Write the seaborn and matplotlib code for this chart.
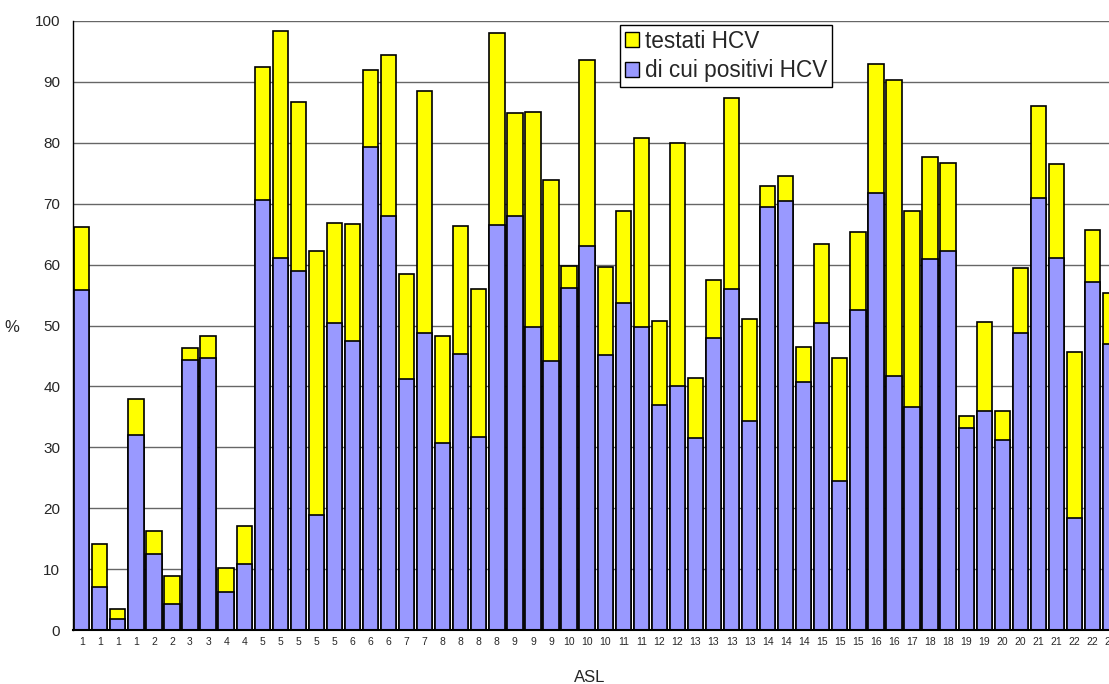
import numpy as np
import pandas as pd
import matplotlib
matplotlib.use("Agg")
import matplotlib.pyplot as plt
from matplotlib.patches import Patch
import seaborn as sns

# ASL code under each bar (chart is cut at the right edge, last bar is partial)
asl = [1, 1, 1, 1, 2, 2, 3, 3, 4, 4, 5, 5, 5, 5, 5, 6, 6, 6, 7, 7,
       8, 8, 8, 8, 9, 9, 9, 10, 10, 10, 11, 11, 12, 12, 13, 13, 13, 13,
       14, 14, 14, 15, 15, 15, 16, 16, 17, 18, 18, 19, 19, 20, 20, 21, 21,
       22, 22, 23]

testati = [66.1, 14.2, 3.4, 38.0, 16.2, 8.8, 46.3, 48.3, 10.2, 17.1,
           92.4, 98.3, 86.7, 62.3, 66.9, 66.7, 91.9, 94.4, 58.4, 88.5,
           48.3, 66.3, 56.0, 98.0, 84.9, 85.0, 73.9, 59.8, 93.6, 59.6,
           68.8, 80.8, 50.8, 80.0, 41.3, 57.4, 87.4, 51.1, 72.9, 74.5,
           46.5, 63.4, 44.6, 65.4, 93.0, 90.3, 68.8, 77.6, 76.7, 35.1,
           50.5, 35.9, 59.5, 86.1, 76.5, 45.7, 65.7, 55.3]

positivi = [55.9, 7.1, 1.8, 32.1, 12.4, 4.3, 44.3, 44.6, 6.3, 10.9,
            70.6, 61.1, 58.9, 18.9, 50.4, 47.4, 79.3, 67.9, 41.2, 48.7,
            30.7, 45.3, 31.7, 66.5, 67.9, 49.7, 44.1, 56.2, 63.0, 45.1,
            53.7, 49.7, 37.0, 40.0, 31.6, 47.9, 56.0, 34.3, 69.4, 70.4,
            40.7, 50.4, 24.4, 52.5, 71.7, 41.7, 36.6, 60.9, 62.2, 33.1,
            36.0, 31.2, 48.7, 71.0, 61.1, 18.4, 57.2, 46.9]

YELLOW = "#FFFF00"
BLUE = "#9999FF"

df = pd.DataFrame({"pos": np.arange(len(asl)), "asl": asl,
                   "testati": testati, "positivi": positivi})

sns.set_style("white")
plt.rcParams["font.family"] = ["Liberation Sans", "DejaVu Sans"]

W, H = 1109, 684
fig = plt.figure(figsize=(W / 100, H / 100), dpi=100)
# axes run slightly past the right edge, like the cropped original
ax = fig.add_axes([72.7 / W, 54 / H, 1046.9 / W, 609 / H])

sns.barplot(data=df, x="pos", y="testati", color=YELLOW, saturation=1,
            width=0.85, edgecolor="black", linewidth=1.2, errorbar=None, ax=ax)
sns.barplot(data=df, x="pos", y="positivi", color=BLUE, saturation=1,
            width=0.85, edgecolor="black", linewidth=1.2, errorbar=None, ax=ax)

n = len(asl)
ax.set_xlim(-0.5, n - 0.5)
ax.set_ylim(0, 100)
ax.set_yticks(np.arange(0, 101, 10))
ax.yaxis.grid(True, color="#666666", linewidth=1)
ax.set_axisbelow(True)

ax.set_xticks(np.arange(n))
ax.set_xticklabels([str(a) for a in asl], fontsize=7.5)
ax.set_xticks(np.arange(n + 1) - 0.5, minor=True)
ax.tick_params(axis="x", which="major", length=0, pad=5)
ax.tick_params(axis="x", which="minor", length=4, width=1, color="black")
ax.tick_params(axis="y", length=4, width=1, color="black", labelsize=11, pad=5)

ax.set_xlabel("")
ax.set_ylabel("")
for s in ["top", "right"]:
    ax.spines[s].set_visible(False)
ax.spines["left"].set_color("black")
ax.spines["left"].set_linewidth(1)
ax.spines["bottom"].set_color("black")
ax.spines["bottom"].set_linewidth(1.5)

fig.text(12 / W, 1 - 327 / H, "%", fontsize=12, ha="center", va="center")
fig.text(590 / W, 1 - 677 / H, "ASL", fontsize=12, ha="center", va="center")

handles = [Patch(facecolor=YELLOW, edgecolor="black", label="testati HCV"),
           Patch(facecolor=BLUE, edgecolor="black", label="di cui positivi HCV")]
leg = fig.legend(handles=handles, loc="upper left",
                 bbox_to_anchor=(620 / W, 1 - 25 / H), borderaxespad=0,
                 fontsize=16.3, handlelength=0.65, handleheight=0.65,
                 handletextpad=0.25, labelspacing=0.3, borderpad=0.2,
                 fancybox=False, framealpha=1, edgecolor="black")
leg.get_frame().set_linewidth(1)

plt.savefig("out.png", dpi=100)
plt.close()
